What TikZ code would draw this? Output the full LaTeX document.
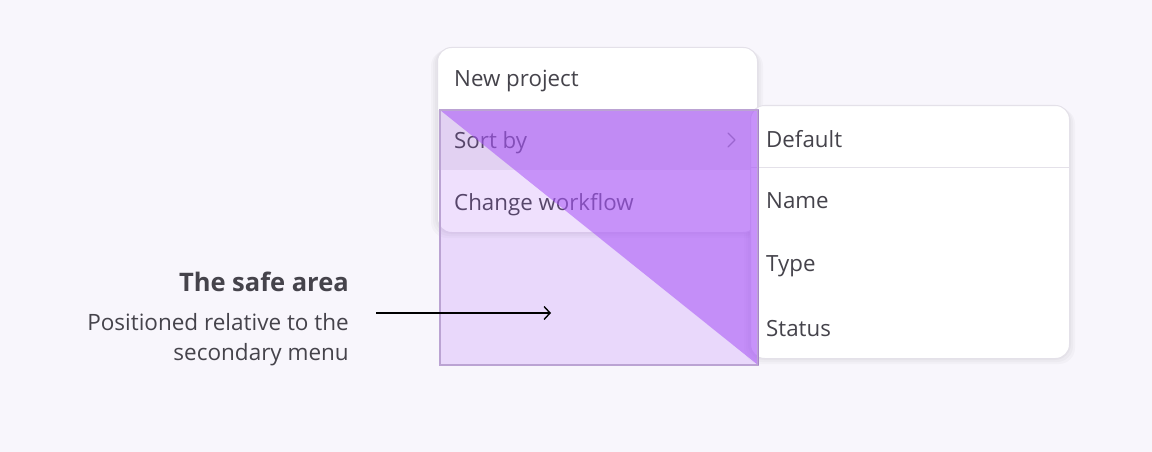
\documentclass[tikz,border=0pt]{standalone}
\usepackage{fontspec}
\setmainfont{Open Sans}
\usetikzlibrary{arrows.meta}
\definecolor{bg}{HTML}{F8F6FC}
\definecolor{cardline}{HTML}{E4E1E9}
\definecolor{txt}{HTML}{45434B}
\definecolor{hl}{HTML}{EFEDF1}
\definecolor{violet}{HTML}{A855F7}
\definecolor{safeline}{HTML}{BBA3D3}
\tikzset{
  card/.style={draw=cardline, line width=1pt, fill=white, rounded corners=14pt, inner sep=0pt, anchor=north west},
  item/.style={anchor=west, inner sep=0pt, text=txt, font=\fontsize{22.3}{26}\selectfont},
  captxt/.style={anchor=east, inner sep=0pt, text=txt, font=\fontsize{22.5}{26}\selectfont},
  cardshadow/.style={fill=black, opacity=0.025, rounded corners=16pt},
}
\begin{document}
\begin{tikzpicture}[x=1pt,y=-1pt]
\useasboundingbox (0,0) rectangle (1152,452);
\fill[bg] (0,0) rectangle (1152,452);
% shadows
\foreach \d in {2,4,6}{
  \fill[cardshadow] (437-\d,47+\d/2) rectangle (757+\d,232+\d);
  \fill[cardshadow] (750-\d,105+\d/2) rectangle (1069+\d,358+\d);
}
% main menu
\node[card, minimum width=320pt, minimum height=185pt] (main) at (437,47) {};
\fill[hl] (437.5,110) rectangle (756.5,170);
\node[item] (newp) at (454,81) {New project};
\node[item] (sort) at (454,143) {Sort by};
\node[item] (chg) at (454,205) {Change workflow};
\draw[txt!65, line width=1.1pt, line cap=round, line join=round] (728,133) -- (735,140) -- (728,147);
% secondary menu
\node[card, minimum width=319pt, minimum height=253pt] (sub) at (750,105) {};
\draw[cardline, line width=1pt] (750.5,167) -- (1068.5,167);
\node[item] (def) at (766,139) {Default};
\node[item] (name) at (766,201) {Name};
\node[item] (type) at (766,266) {Type};
\node[item] (stat) at (766,329) {Status};
% safe area
\fill[violet, opacity=0.18] (440,110) rectangle (758,365);
\fill[violet, opacity=0.56] (440,110) -- (758,110) -- (758,365) -- cycle;
\draw[safeline, line width=1.3pt] (440,110) rectangle (758,365);
\draw[violet!70!black, opacity=0.3, line width=1pt] (758,110) -- (758,365);
% caption
\node[captxt, font=\fontsize{25.5}{30}\selectfont\bfseries] (title) at (349,282) {The safe area};
\node[captxt] (l1) at (349,322) {Positioned relative to the};
\node[captxt] (l2) at (349,355) {secondary menu};
\coordinate (as) at (376,313);
\coordinate (ae) at (551,313);
\draw[black, line width=1.4pt, -{Straight Barb[length=6pt,width=13pt,line width=1.4pt]}] (as) -- (ae);
\end{tikzpicture}
\end{document}
